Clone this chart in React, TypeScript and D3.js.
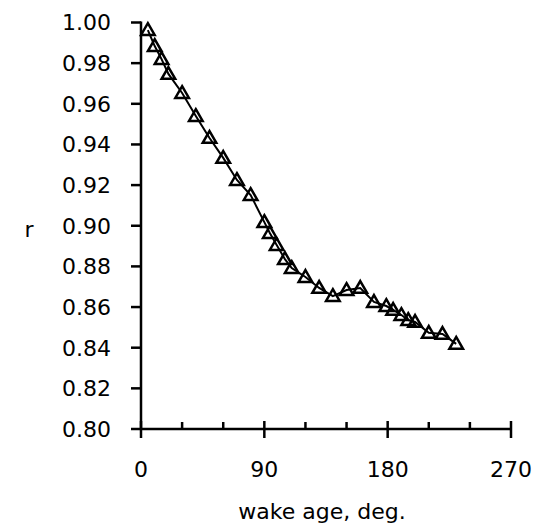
import React, { useEffect, useRef } from "react";
import * as d3 from "d3";

const wakeAge = [5, 10, 15, 20, 30, 40, 50, 60, 70, 80, 90, 94, 99, 105, 110, 120, 130, 140, 150, 160, 170, 179, 184, 190, 195, 200, 210, 220, 230];
const rValues = [0.9963, 0.9884, 0.982, 0.9747, 0.9653, 0.954, 0.9432, 0.9334, 0.9225, 0.9151, 0.9018, 0.8964, 0.8905, 0.8836, 0.8792, 0.8748, 0.8694, 0.8654, 0.8684, 0.8694, 0.8625, 0.8605, 0.8586, 0.8561, 0.8536, 0.8527, 0.8473, 0.8468, 0.8419];
const xTicks = [0, 90, 180, 270];
const xMinorTicks = [30, 60, 120, 150, 210, 240];
const yTicks = [0.8, 0.82, 0.84, 0.86, 0.88, 0.9, 0.92, 0.94, 0.96, 0.98, 1.0];

const W = 543;
const H = 524;
const FONT = "'DejaVu Sans', sans-serif";
const FS = 22;

export default function App() {
  const ref = useRef<SVGSVGElement>(null);
  useEffect(() => {
    const svg = d3.select(ref.current);
    svg.selectAll("*").remove();
    const x = d3.scaleLinear().domain([0, 270]).range([141, 511]);
    const y = d3.scaleLinear().domain([0.8, 1.0]).range([429, 22.5]);
    const g = svg.append("g");

    const pts = wakeAge.map((a, i) => [a, rValues[i]] as [number, number]);
    const line = d3.line<[number, number]>().x(d => x(d[0])).y(d => y(d[1]));
    g.append("path").attr("d", line(pts)).attr("fill", "none").attr("stroke", "#000").attr("stroke-width", 2);

    const tri = d3.symbol().type(d3.symbolTriangle).size(80);
    g.selectAll("path.m").data(pts).enter().append("path")
      .attr("class", "m")
      .attr("d", tri() as string)
      .attr("transform", d => `translate(${x(d[0])},${y(d[1]) + 1})`)
      .attr("fill", "none").attr("stroke", "#000").attr("stroke-width", 2.5);

    g.append("line").attr("x1", x(0)).attr("x2", x(270)).attr("y1", y(0.8)).attr("y2", y(0.8)).attr("stroke", "#000").attr("stroke-width", 2.5);
    g.append("line").attr("x1", x(0)).attr("x2", x(0)).attr("y1", y(1.0) - 1).attr("y2", y(0.8)).attr("stroke", "#000").attr("stroke-width", 2.5);

    yTicks.forEach(t => {
      g.append("line").attr("x1", x(0) - 10).attr("x2", x(0)).attr("y1", y(t)).attr("y2", y(t)).attr("stroke", "#000").attr("stroke-width", 2.5);
      g.append("text").attr("x", 111).attr("y", y(t)).attr("dy", "0.36em").attr("text-anchor", "end")
        .attr("font-family", FONT).attr("font-size", FS).attr("fill", "#000").text(d3.format(".2f")(t));
    });
    xTicks.forEach(t => {
      g.append("line").attr("x1", x(t)).attr("x2", x(t)).attr("y1", y(0.8) - 8).attr("y2", y(0.8) + 9).attr("stroke", "#000").attr("stroke-width", 2.5);
      g.append("text").attr("x", x(t)).attr("y", 477).attr("text-anchor", "middle")
        .attr("font-family", FONT).attr("font-size", FS).attr("fill", "#000").text(String(t));
    });
    xMinorTicks.forEach(t => {
      g.append("line").attr("x1", x(t)).attr("x2", x(t)).attr("y1", y(0.8) - 7).attr("y2", y(0.8)).attr("stroke", "#000").attr("stroke-width", 2.5);
    });

    g.append("text").attr("x", 322).attr("y", 519).attr("text-anchor", "middle")
      .attr("font-family", FONT).attr("font-size", FS).attr("fill", "#000").text("wake age, deg.");
    g.append("text").attr("x", 29).attr("y", 237).attr("text-anchor", "middle")
      .attr("font-family", FONT).attr("font-size", FS).attr("fill", "#000").text("r");
  }, []);
  return (
    <svg ref={ref} width={W} height={H} style={{ position: "absolute", left: 0, top: 0, background: "#fff" }} />
  );
}
